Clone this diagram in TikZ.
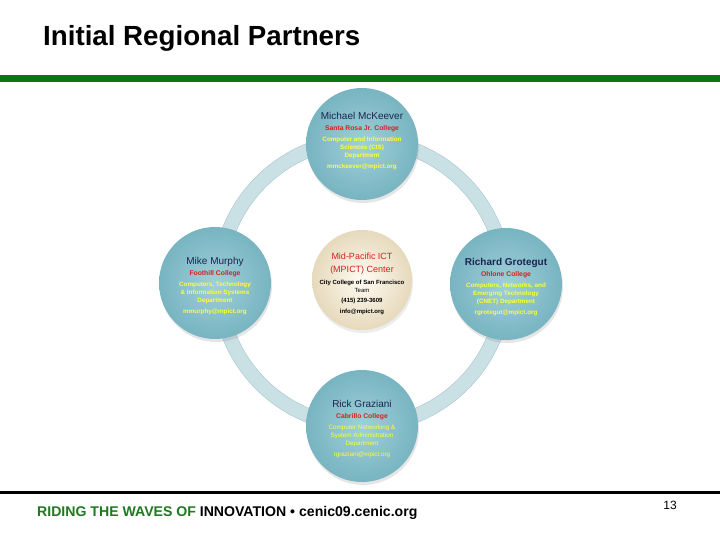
\documentclass[tikz,border=0pt]{standalone}
\usepackage{fontspec}
\setmainfont{Liberation Sans}
\usetikzlibrary{positioning, shadows}
\definecolor{barGreen}{HTML}{0B780B}
\definecolor{footGreen}{HTML}{1E7A1E}
\definecolor{ringBlue}{HTML}{C9E0E5}
\definecolor{ringEdge}{HTML}{A7C5CC}
\definecolor{ballIn}{HTML}{9FD0D9}
\definecolor{ballOut}{HTML}{78B4C1}
\definecolor{coreIn}{HTML}{FFFCF2}
\definecolor{coreOut}{HTML}{E6D9BC}
\definecolor{nameBlue}{HTML}{1B2550}
\definecolor{collRed}{HTML}{D42020}
\definecolor{deptYellow}{HTML}{FFFF33}

\begin{document}
\begin{tikzpicture}[x=1pt, y=-1pt,
	ball/.style={circle, inner sep=0pt, minimum size=112pt, shading=radial,
		inner color=ballIn, outer color=ballOut,
		drop shadow={opacity=0.2, shadow xshift=1pt, shadow yshift=-3pt}},
	core/.style={circle, inner sep=0pt, minimum size=100pt, shading=radial,
		inner color=coreIn, outer color=coreOut,
		drop shadow={opacity=0.15, shadow xshift=1pt, shadow yshift=-3pt}},
	balltext/.style={align=center, inner sep=0pt, font=\fontsize{6.3}{8.2}\selectfont},
	]
	\useasboundingbox (0,0) rectangle (720,540);
	\fill[white] (0,0) rectangle (720,540);
	%-------------------------------------------------------------------------------
	% header and footer
	%-------------------------------------------------------------------------------
	\node[anchor=base west, inner sep=0pt, font=\fontsize{27.7}{30}\selectfont\bfseries] (title)
		at (43,46) {Initial Regional Partners};
	\fill[barGreen] (0,75) rectangle (720,82);
	\fill[black] (0,491) rectangle (720,494);
	\node[anchor=base west, inner sep=0pt, font=\fontsize{14.1}{16}\selectfont\bfseries] (foot)
		at (37,516) {\textcolor{footGreen}{RIDING THE WAVES OF} INNOVATION \textbullet\ cenic09.cenic.org};
	\node[anchor=base east, inner sep=0pt, font=\fontsize{12}{14}\selectfont] (page)
		at (677,509) {13};

	%-------------------------------------------------------------------------------
	% ring
	%-------------------------------------------------------------------------------
	\coordinate (hub) at (362,283);
	\draw[ringBlue, line width=14pt] (hub) circle[radius=143];
	\draw[ringEdge, thin] (hub) circle[radius=150];
	\draw[ringEdge, thin] (hub) circle[radius=136];

	%-------------------------------------------------------------------------------
	% partner circles
	%-------------------------------------------------------------------------------
	\node[ball] (north) at (362,144) {};
	\node[ball] (west) at (215,283) {};
	\node[ball] (east) at (506,284) {};
	\node[ball] (south) at (362,426) {};
	\node[core] (mpict) at (362,280) {};

	% texts
	\node[balltext] (northtxt) at ([yshift=3]north.center)
		{{\fontsize{10}{11}\selectfont\color{nameBlue}Michael McKeever}\\[3pt]
		 {\fontsize{6.8}{8}\selectfont\bfseries\color{collRed}Santa Rosa Jr. College}\\[2.5pt]
		 {\bfseries\color{deptYellow}Computer and Information}\\
		 {\bfseries\color{deptYellow}Sciences (CIS)}\\
		 {\bfseries\color{deptYellow}Department}\\[2.5pt]
		 {\bfseries\color{deptYellow}mmckeever@mpict.org}};
	\node[balltext] (westtxt) at ([yshift=-3]west.center)
		{{\fontsize{10}{11}\selectfont\color{nameBlue}Mike Murphy}\\[3pt]
		 {\fontsize{6.8}{8}\selectfont\bfseries\color{collRed}Foothill College}\\[2.5pt]
		 {\bfseries\color{deptYellow}Computers, Technology}\\
		 {\bfseries\color{deptYellow}\& Information Systems}\\
		 {\bfseries\color{deptYellow}Department}\\[2.5pt]
		 {\bfseries\color{deptYellow}mmurphy@mpict.org}};
	\node[balltext] (easttxt) at ([yshift=-3]east.center)
		{{\fontsize{10}{11}\selectfont\bfseries\color{nameBlue}Richard Grotegut}\\[3pt]
		 {\fontsize{6.8}{8}\selectfont\bfseries\color{collRed}Ohlone College}\\[2.5pt]
		 {\bfseries\color{deptYellow}Computers, Networks, and}\\
		 {\bfseries\color{deptYellow}Emerging Technology}\\
		 {\bfseries\color{deptYellow}(CNET) Department}\\[2.5pt]
		 {\bfseries\color{deptYellow}rgrotegut@mpict.org}};
	\node[balltext] (southtxt) at ([yshift=-3]south.center)
		{{\fontsize{10}{11}\selectfont\color{nameBlue}Rick Graziani}\\[3pt]
		 {\fontsize{6.8}{8}\selectfont\bfseries\color{collRed}Cabrillo College}\\[2.5pt]
		 {\color{deptYellow}Computer Networking \&}\\
		 {\color{deptYellow}System Administration}\\
		 {\color{deptYellow}Department}\\[2.5pt]
		 {\color{deptYellow}rgraziani@mpict.org}};
	\node[balltext] (mpicttxt) at ([yshift=-4]mpict.center)
		{{\fontsize{9}{10}\selectfont\color{collRed}Mid-Pacific ICT}\\[5pt]
		 {\fontsize{9}{10}\selectfont\color{collRed}(MPICT) Center}\\[3pt]
		 {\fontsize{6}{6.8}\selectfont\bfseries City College of San Francisco}\\
		 {\fontsize{6}{6.8}\selectfont Team}\\[2.5pt]
		 {\fontsize{6}{6.8}\selectfont\bfseries (415) 239-3609}\\[2.5pt]
		 {\fontsize{6}{6.8}\selectfont\bfseries info@mpict.org}};
\end{tikzpicture}
\end{document}
